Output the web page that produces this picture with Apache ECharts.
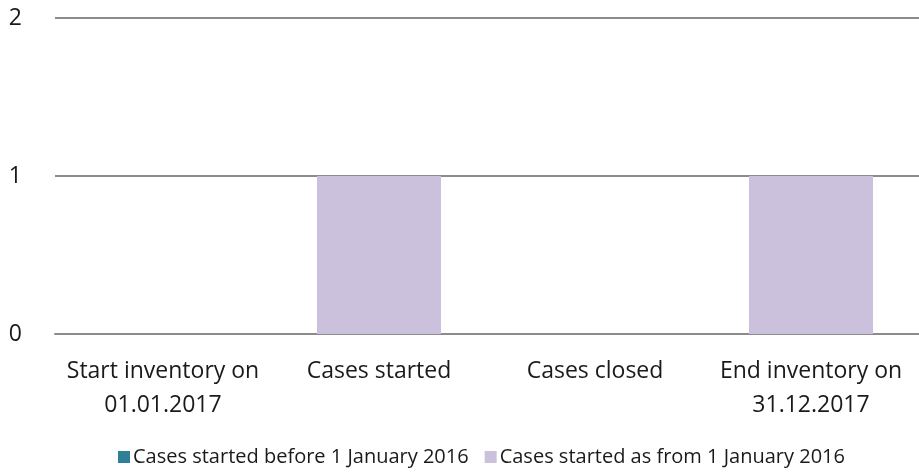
<!DOCTYPE html>
<html><head><meta charset="utf-8">
<script src="https://cdn.jsdelivr.net/npm/echarts@6/dist/echarts.min.js"></script>
<style>html,body{margin:0;padding:0;background:#fff}#c{width:919px;height:472px}</style>
</head><body><div id="c"></div>
<script>
const categories = ["Start inventory on\n01.01.2017", "Cases started", "Cases closed", "End inventory on\n31.12.2017"];
const seriesNames = ["Cases started before 1 January 2016", "Cases started as from 1 January 2016"];
const before2016 = [0, 0, 0, 0];
const from2016 = [0, 1, 0, 1];
const yTicks = [0, 1, 2];

const font = "'Open Sans', sans-serif";
const chart = echarts.init(document.getElementById('c'), null, {renderer: 'canvas'});
chart.setOption({
  animation: false,
  grid: {left: 55, width: 870, top: 18, bottom: 138},
  legend: {
    bottom: 0, left: 113,
    itemWidth: 12, itemHeight: 12, itemGap: 16,
    icon: 'rect',
    textStyle: {fontFamily: font, fontSize: 20, color: '#1a1a1a', padding: [0,0,0,-2]},
    data: seriesNames
  },
  xAxis: {
    type: 'category', data: categories,
    axisLine: {lineStyle: {color: '#8c8c8c', width: 2}},
    axisTick: {show: false},
    axisLabel: {fontFamily: font, fontSize: 23, color: '#1a1a1a', margin: 20, lineHeight: 34, interval: 0}
  },
  yAxis: {
    type: 'value', min: yTicks[0], max: yTicks[yTicks.length-1], interval: 1,
    axisLine: {show: false}, axisTick: {show: false},
    splitLine: {lineStyle: {color: '#8c8c8c', width: 2}},
    axisLabel: {fontFamily: font, fontSize: 23, color: '#1a1a1a', margin: 33}
  },
  series: [
    {name: seriesNames[0], type: 'bar', stack: 's', data: before2016, barWidth: 124, itemStyle: {color: '#2f7f9b'}},
    {name: seriesNames[1], type: 'bar', stack: 's', data: from2016, barWidth: 124, itemStyle: {color: '#cbc1dc'}}
  ]
});
</script></body></html>
